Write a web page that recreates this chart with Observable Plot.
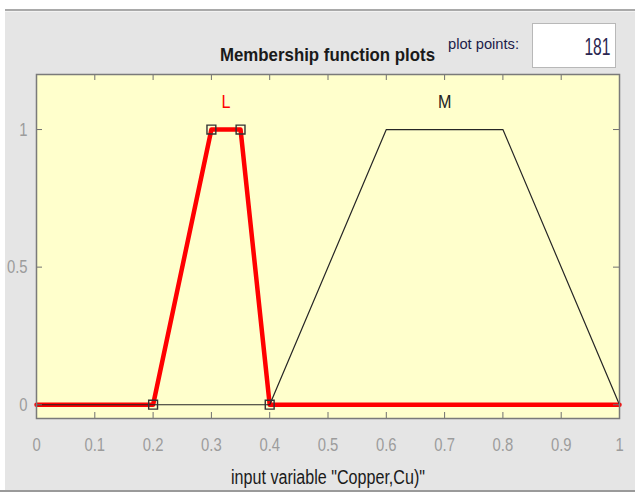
<!DOCTYPE html>
<html><head><meta charset="utf-8">
<script src="https://cdn.jsdelivr.net/npm/d3@7"></script>
<script src="https://cdn.jsdelivr.net/npm/@observablehq/plot@0.6"></script>
<style>
body{margin:0;background:#fff;font-family:"Liberation Sans",Arial,Helvetica,sans-serif;}
#wrap{position:relative;width:635px;height:492px;overflow:hidden;}
.abs{position:absolute;white-space:nowrap;}
#title{left:220px;top:45px;font-size:19px;line-height:19px;font-weight:bold;color:#1a1a1a;transform-origin:left center;}
#pplabel{left:448px;top:37px;font-size:14px;line-height:14px;color:#1c1c4a;transform-origin:left center;}
#ppbox{left:532px;top:23px;width:84px;height:45px;box-sizing:border-box;background:#fff;border:1.5px solid #b8b8b8;}
#ppval{position:absolute;right:5px;top:12px;font-size:23px;line-height:23px;color:#2a2550;transform-origin:right center;}
</style></head><body>
<div id="wrap">
  <div class="abs" style="left:5px;top:9px;right:0;height:2px;background:#a9a9a9"></div>
  <div class="abs" style="left:5px;top:11px;right:0;bottom:2px;background:#e5e5e5;border-top:1px solid #f2f2f2"></div>
  <div class="abs" style="left:0;right:0;bottom:0;height:2px;background:#9a9a9a"></div>
  <div id="chart" class="abs" style="left:0;top:0"></div>
  <div id="title" class="abs"></div>
  <div id="pplabel" class="abs"></div>
  <div id="ppbox" class="abs"><span id="ppval"></span></div>
</div>
<script>
// ---- data ----
const xDomain = [0, 1];
const yDomain = [-0.05, 1.2];
const mfNames = ["L", "M"];
const mfParamsL = [0.2, 0.3, 0.35, 0.4];   // trapmf
const mfParamsM = [0.4, 0.6, 0.8, 1.0];    // trapmf
const trapShape = [0, 1, 1, 0];
const selectedMf = "L";
const labelLevel = 1.1;
const xTicks = [0, 0.1, 0.2, 0.3, 0.4, 0.5, 0.6, 0.7, 0.8, 0.9, 1];
const yTicks = [0, 0.5, 1];
const plotPoints = 181;
const titleText = "Membership function plots";
const plotPointsLabel = "plot points:";
const xLabelText = 'input variable "Copper,Cu)"';

// ---- build tables ----
function curve(params) {
  return [{x: xDomain[0], y: 0}]
    .concat(params.map((p, i) => ({x: p, y: trapShape[i]})))
    .concat([{x: xDomain[1], y: 0}]);
}
const curveL = curve(mfParamsL);
const curveM = curve(mfParamsM);
const vertsL = mfParamsL.map((p, i) => ({x: p, y: trapShape[i]}));
// labels sit above the centre of each plateau
const labels = [
  {name: mfNames[0], x: (mfParamsL[1] + mfParamsL[2]) / 2, y: labelLevel},
  {name: mfNames[1], x: (mfParamsM[1] + mfParamsM[2]) / 2, y: labelLevel}
];

const W = 635, H = 492, mL = 36, mR = 16, mT = 74, mB = 74;
const fw = W - mL - mR, fh = H - mT - mB, tl = 6;
const fmt = d => String(d);

const chart = Plot.plot({
  width: W, height: H,
  marginLeft: mL, marginRight: mR, marginTop: mT, marginBottom: mB,
  x: {domain: xDomain},
  y: {domain: yDomain},
  style: {background: "transparent", fontFamily: "'Liberation Sans', Arial, sans-serif", overflow: "visible"},
  marks: [
    Plot.frame({fill: "#ffffcc", stroke: null}),
    Plot.line(curveL, {x: "x", y: "y", stroke: "#ff0000", strokeWidth: 4.5}),
    Plot.line(curveM, {x: "x", y: "y", stroke: "#262626", strokeWidth: 1.2}),
    Plot.dot(vertsL, {x: "x", y: "y", symbol: "square", r: 5, stroke: "#333", strokeWidth: 1.4, fill: "none"}),
    Plot.text(labels, {x: "x", y: "y", text: "name", fill: d => d.name === selectedMf ? "#ff0000" : "#222", fontSize: 19}),
    Plot.tickX(xTicks, {x: d => d, insetTop: fh - tl, stroke: "#707070"}),
    Plot.tickX(xTicks, {x: d => d, insetBottom: fh - tl, stroke: "#707070"}),
    Plot.tickY(yTicks, {y: d => d, insetRight: fw - tl, stroke: "#707070"}),
    Plot.tickY(yTicks, {y: d => d, insetLeft: fw - tl, stroke: "#707070"}),
    Plot.frame({stroke: "#7a7a7a", strokeWidth: 1.5}),
    Plot.axisX({ticks: xTicks, tickFormat: fmt, tickSize: 0, tickPadding: 19, fontSize: 19, fill: "#9c9c9c", label: null}),
    Plot.axisY({ticks: yTicks, tickFormat: fmt, tickSize: 0, tickPadding: 9, fontSize: 19, fill: "#9c9c9c", label: null}),
    Plot.text([xLabelText], {frameAnchor: "bottom", dy: 65, lineAnchor: "bottom", fontSize: 19.5, fill: "#1a1a1a", text: d => d})
  ]
});
document.getElementById("chart").appendChild(chart);

// compress texts horizontally (the reference is a horizontally squeezed screenshot)
chart.querySelectorAll("text").forEach(t => {
  const s = t.textContent;
  const w = t.getComputedTextLength();
  let f = 0.78;
  if (s === xLabelText) f = 194 / w;
  else if (mfNames.includes(s)) f = 0.85;
  t.setAttribute("textLength", (w * f).toFixed(2));
  t.setAttribute("lengthAdjust", "spacingAndGlyphs");
});

function fit(el, text, target) {
  el.textContent = text;
  const w = el.getBoundingClientRect().width;
  el.style.transform = `scaleX(${target / w})`;
}
fit(document.getElementById("title"), titleText, 215);
fit(document.getElementById("pplabel"), plotPointsLabel, 71);
const pv = document.getElementById("ppval");
pv.style.display = "inline-block";
fit(pv, String(plotPoints), 26);
</script>
</body></html>
